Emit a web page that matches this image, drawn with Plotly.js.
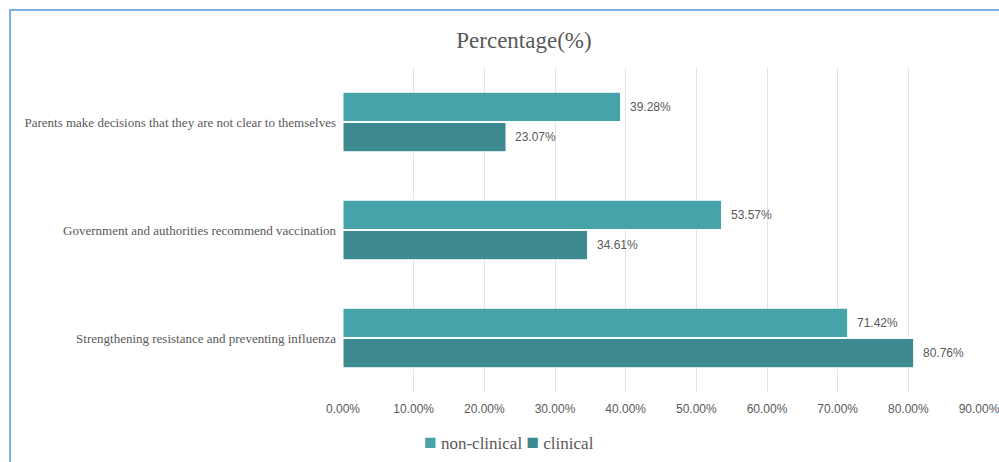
<!DOCTYPE html>
<html>
<head>
<meta charset="utf-8">
<script src="https://cdn.plot.ly/plotly-3.0.1.min.js"></script>
<style>
  html, body { margin: 0; padding: 0; background: #fff; overflow: hidden; }
  #wrap { position: relative; width: 999px; height: 462px; overflow: hidden; }
  #frame { position: absolute; left: 9px; top: 9px; width: 1000px; height: 500px;
           border-top: 2px solid #7fb0e0; border-left: 2px solid #7fb0e0; box-sizing: border-box; }
  #chart { position: absolute; left: 0; top: 0; width: 999px; height: 462px; }
</style>
</head>
<body>
<div id="wrap">
  <div id="frame"></div>
  <div id="chart"></div>
</div>
<script>
// Reasons, listed bottom to top as they sit on the category axis
const reasons = [
  'Strengthening resistance and preventing influenza',
  'Government and authorities recommend vaccination',
  'Parents make decisions that they are not clear to themselves'
];
const nonClinical = [71.42, 53.57, 39.28];
const clinical = [80.76, 34.61, 23.07];
const xTicks = [0, 10, 20, 30, 40, 50, 60, 70, 80, 90];
const seriesNames = ['non-clinical', 'clinical'];

const teal = '#45a3a9';
const tealDark = '#3d8b90';
const grey = '#595959';
const serif = 'Liberation Serif';
const sans = 'Liberation Sans';

const fmt = v => v.toFixed(2) + '%';

const traces = [
  {
    type: 'bar', orientation: 'h', name: seriesNames[1],
    y: reasons, x: clinical,
    marker: { color: tealDark, line: { color: '#ffffff', width: 1 } },
    hoverinfo: 'skip'
  },
  {
    type: 'bar', orientation: 'h', name: seriesNames[0],
    y: reasons, x: nonClinical,
    marker: { color: teal, line: { color: '#ffffff', width: 1 } },
    hoverinfo: 'skip'
  }
];

// Value labels placed just right of each bar end
const annotations = [];
reasons.forEach((r, i) => {
  annotations.push({ x: nonClinical[i], y: r, yshift: 15, xshift: 7, text: fmt(nonClinical[i]),
    xanchor: 'left', showarrow: false, font: { family: sans, size: 12, color: grey } });
  annotations.push({ x: clinical[i], y: r, yshift: -15, xshift: 7, text: fmt(clinical[i]),
    xanchor: 'left', showarrow: false, font: { family: sans, size: 12, color: grey } });
});

// Compact key below the axis: coloured square followed by the series name
const swatch = c => '<span style="color:' + c + ';font-size:21px">■</span>';
annotations.push({
  xref: 'paper', yref: 'paper', x: (509 - 343) / 636, y: -0.155,
  xanchor: 'center', yanchor: 'middle', showarrow: false,
  text: swatch(teal) + ' ' + seriesNames[0] + ' ' + swatch(tealDark) + ' ' + seriesNames[1],
  font: { family: serif, size: 17, color: grey }
});

const layout = {
  width: 999, height: 462,
  paper_bgcolor: 'rgba(0,0,0,0)', plot_bgcolor: 'rgba(0,0,0,0)',
  margin: { l: 343, r: 20, t: 68, b: 70 },
  title: {
    text: 'Percentage(%)', xref: 'container', x: 0.5245, xanchor: 'center',
    yref: 'container', y: 0.913, yanchor: 'middle',
    font: { family: serif, size: 23, color: grey }
  },
  barmode: 'group', bargap: 0.44, bargroupgap: 0.03,
  xaxis: {
    range: [0, 90], tickvals: xTicks, ticktext: xTicks.map(fmt),
    showgrid: true, gridcolor: '#e3e3e3', gridwidth: 1, zeroline: false,
    showline: false, ticks: '', ticklabelstandoff: 8, ticklabeloverflow: 'allow',
    tickfont: { family: sans, size: 12, color: grey }, fixedrange: true
  },
  yaxis: {
    type: 'category', showgrid: false, zeroline: false, showline: false,
    ticks: '', ticklabelstandoff: 6,
    tickfont: { family: serif, size: 13, color: grey }, fixedrange: true
  },
  showlegend: false,
  annotations: annotations
};

Plotly.newPlot('chart', traces, layout, { displayModeBar: false, staticPlot: true });
</script>
</body>
</html>
